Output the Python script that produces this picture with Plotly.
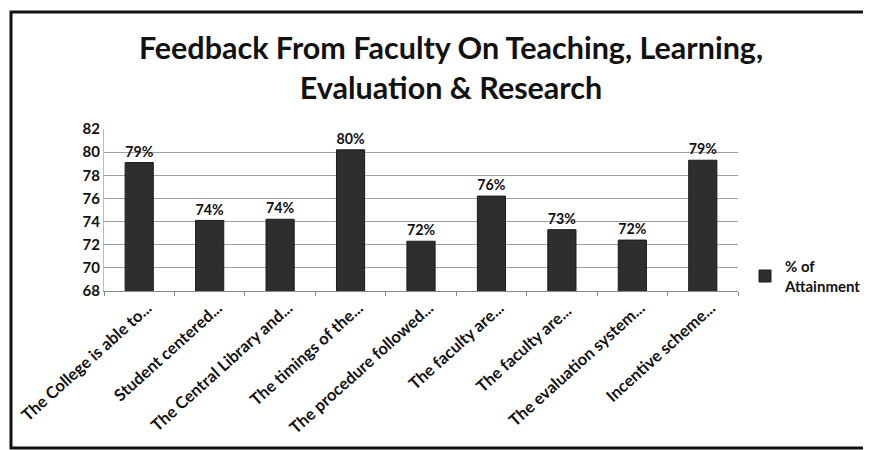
import plotly.graph_objects as go

categories = [
    "The College is able to...",
    "Student centered...",
    "The Central Library and...",
    "The timings of the...",
    "The procedure followed...",
    "The faculty are...",
    "The faculty are... ",
    "The evaluation system...",
    "Incentive scheme...",
]
attainment = [79.1, 74.1, 74.2, 80.2, 72.3, 76.2, 73.3, 72.4, 79.3]
series_name = "% of<br>Attainment"
y_ticks = [68, 70, 72, 74, 76, 78, 80, 82]

FONT = "Lato, 'Open Sans', sans-serif"

# page body adds an 8px margin; work in screen pixels and convert
OFF = 8
W, H = 871 - OFF, 450 - OFF
# plot area in screen pixels: x 104..738, y 129..291
L = 104 - OFF
T = 129 - OFF
R = W - (738 - OFF)
B = H - (291 - OFF)
pw, ph = W - L - R, H - T - B


def px_x(x):
    return (x - OFF - L) / pw


def px_y(y):
    return (H - B - (y - OFF)) / ph


fig = go.Figure()
fig.add_trace(go.Bar(
    x=categories,
    y=attainment,
    name=series_name,
    marker=dict(color="#2e2e2e", line=dict(color="#1a1a1a", width=1)),
    texttemplate="%{y:.0f}%",
    textposition="outside",
    textfont=dict(family=FONT, size=15, color="#111", weight=700),
    cliponaxis=False,
    showlegend=True,
))

fig.update_layout(
    width=W, height=H,
    margin=dict(l=L, r=R, t=T, b=B, autoexpand=False),
    paper_bgcolor="white", plot_bgcolor="white",
    bargap=0.6,
    title=dict(
        text="Feedback From Faculty On Teaching, Learning,<br>Evaluation & Research",
        x=(451 - OFF) / W, xanchor="center", y=1 - (59 - OFF) / H, yanchor="middle",
        font=dict(family=FONT, size=30.5, color="#111", weight=700),
    ),
    font=dict(family=FONT, color="#111"),
    legend=dict(
        x=px_x(745), y=px_y(250), xanchor="left", yanchor="top",
        font=dict(family=FONT, size=15, color="#111", weight=700),
        itemwidth=30, bgcolor="rgba(0,0,0,0)",
    ),
    xaxis=dict(
        tickangle=-42,
        tickfont=dict(family=FONT, size=16.5, color="#111", weight=700),
        showline=True, linecolor="#888", linewidth=1,
        ticks="outside", tickson="boundaries", ticklen=4, tickcolor="#888",
        showgrid=False, automargin=False,
        ticklabelshift=8,
    ),
    yaxis=dict(
        range=[68, 82], tickvals=y_ticks,
        tickfont=dict(family=FONT, size=15, color="#111", weight=700),
        showgrid=True, gridcolor="#a0a0a0", gridwidth=1,
        showline=True, linecolor="#bbb", linewidth=1,
        zeroline=False, automargin=False,
    ),
    shapes=[dict(
        type="rect", xref="paper", yref="paper",
        x0=px_x(11), x1=px_x(885), y0=px_y(448), y1=px_y(12),
        line=dict(color="#111", width=3), fillcolor="rgba(0,0,0,0)",
        layer="below",
    )],
)

fig.write_html("out.html")
